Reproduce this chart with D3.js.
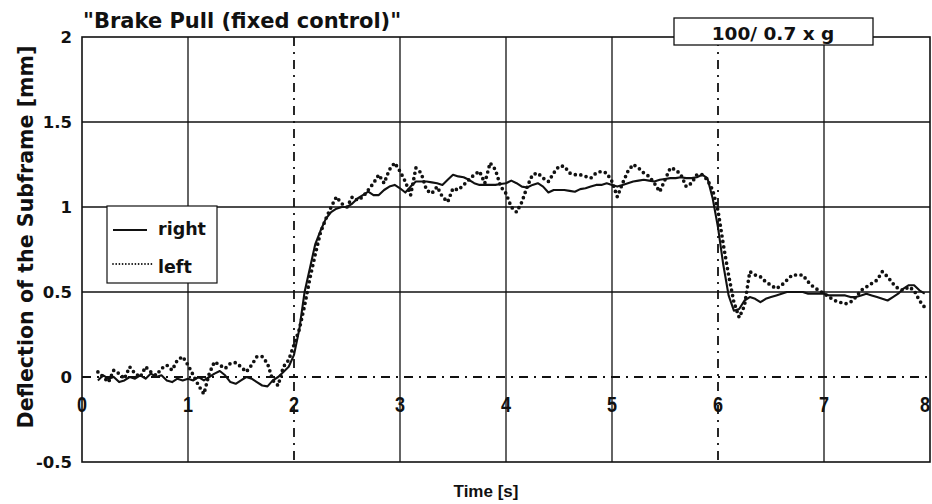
<!DOCTYPE html>
<html><head><meta charset="utf-8">
<script src="https://cdn.jsdelivr.net/npm/d3@7"></script>
<style>
html,body{margin:0;padding:0;background:#fff;}
svg text{font-family:"DejaVu Sans",sans-serif;font-weight:bold;fill:#111;}
svg text.arial{font-family:"Liberation Sans",Arial,sans-serif;}
</style></head>
<body><svg id="c" width="932" height="504"></svg>
<script>
const time = [
0.15,0.20,0.25,0.30,0.35,0.40,0.45,0.50,0.55,0.60,
0.65,0.70,0.75,0.80,0.85,0.90,0.95,1.00,1.05,1.10,
1.15,1.20,1.25,1.30,1.35,1.40,1.45,1.50,1.55,1.60,
1.65,1.70,1.75,1.80,1.85,1.90,1.95,2.00,2.05,2.10,
2.15,2.20,2.25,2.30,2.35,2.40,2.45,2.50,2.55,2.60,
2.65,2.70,2.75,2.80,2.85,2.90,2.95,3.00,3.05,3.10,
3.15,3.20,3.25,3.30,3.35,3.40,3.45,3.50,3.55,3.60,
3.65,3.70,3.75,3.80,3.85,3.90,3.95,4.00,4.05,4.10,
4.15,4.20,4.25,4.30,4.35,4.40,4.45,4.50,4.55,4.60,
4.65,4.70,4.75,4.80,4.85,4.90,4.95,5.00,5.05,5.10,
5.15,5.20,5.25,5.30,5.35,5.40,5.45,5.50,5.55,5.60,
5.65,5.70,5.75,5.80,5.85,5.90,5.95,6.00,6.05,6.10,
6.15,6.20,6.25,6.30,6.35,6.40,6.45,6.50,6.55,6.60,
6.65,6.70,6.75,6.80,6.85,6.90,6.95,7.00,7.05,7.10,
7.15,7.20,7.25,7.30,7.35,7.40,7.45,7.50,7.55,7.60,
7.65,7.70,7.75,7.80,7.85,7.90,7.95];

const right = [
-0.02,0.01,-0.01,0.00,-0.03,-0.02,0.00,-0.01,0.01,-0.01,
0.02,0.00,0.01,-0.02,-0.03,-0.01,-0.02,-0.01,-0.02,0.00,
-0.02,0.00,0.02,0.035,0.01,-0.03,-0.04,-0.02,0.00,-0.01,
-0.03,-0.05,-0.055,-0.02,0.00,0.03,0.06,0.13,0.28,0.50,
0.64,0.78,0.86,0.93,0.97,0.99,1.00,1.00,1.02,1.05,
1.07,1.09,1.07,1.07,1.10,1.12,1.13,1.11,1.085,1.12,
1.15,1.15,1.15,1.145,1.14,1.13,1.16,1.19,1.18,1.175,
1.16,1.14,1.13,1.13,1.13,1.13,1.135,1.14,1.155,1.14,
1.12,1.115,1.13,1.14,1.12,1.085,1.10,1.10,1.10,1.095,
1.09,1.105,1.11,1.12,1.13,1.13,1.14,1.13,1.12,1.13,
1.14,1.15,1.155,1.16,1.155,1.15,1.16,1.165,1.17,1.17,
1.175,1.17,1.17,1.175,1.19,1.17,1.05,0.88,0.66,0.48,
0.39,0.40,0.45,0.47,0.46,0.44,0.46,0.47,0.48,0.49,
0.50,0.50,0.50,0.50,0.49,0.49,0.49,0.49,0.48,0.48,
0.48,0.48,0.47,0.47,0.48,0.49,0.48,0.47,0.46,0.45,
0.47,0.49,0.52,0.54,0.54,0.51,0.49];

const left = [
0.03,0.00,-0.03,0.04,0.02,-0.01,0.06,0.02,0.00,0.06,
0.03,0.01,0.05,0.07,0.04,0.10,0.12,0.07,0.01,-0.05,
-0.10,0.02,0.09,0.07,0.05,0.08,0.085,0.06,0.03,0.07,
0.12,0.12,0.08,-0.02,-0.05,0.06,0.10,0.19,0.28,0.42,
0.58,0.72,0.85,0.93,1.00,1.06,1.02,1.00,1.06,1.04,
1.06,1.10,1.14,1.19,1.14,1.22,1.26,1.21,1.15,1.07,
1.23,1.20,1.10,1.08,1.12,1.06,1.03,1.11,1.10,1.13,
1.16,1.19,1.21,1.14,1.26,1.22,1.12,1.08,1.00,0.97,
1.03,1.12,1.19,1.20,1.17,1.15,1.20,1.24,1.24,1.20,
1.19,1.19,1.18,1.17,1.20,1.21,1.20,1.15,1.06,1.14,
1.21,1.25,1.23,1.20,1.18,1.14,1.09,1.16,1.23,1.22,
1.19,1.12,1.14,1.19,1.19,1.16,1.10,0.98,0.78,0.60,
0.44,0.35,0.42,0.62,0.60,0.59,0.56,0.54,0.52,0.54,
0.57,0.60,0.60,0.60,0.56,0.53,0.51,0.49,0.47,0.45,
0.44,0.43,0.44,0.47,0.51,0.53,0.55,0.57,0.62,0.59,
0.55,0.52,0.51,0.53,0.51,0.45,0.41];

const xTicks = [0,1,2,3,4,5,6,7,8];
const yTicks = [-0.5,0,0.5,1,1.5,2];
const yTickLabels = ["-0.5","0","0.5","1","1.5","2"];
const markerTimes = [2,6];
const seriesNames = ["right","left"];
const titleText = "\"Brake Pull (fixed control)\"";
const noteText = "100/ 0.7 x g";
const xTitle = "Time [s]";
const yTitle = "Deflection of the Subframe [mm]";

const svg = d3.select("#c");
const x = d3.scaleLinear().domain([0,8]).range([82,930]);
const y = d3.scaleLinear().domain([-0.5,2]).range([462,37]);
const ink = "#111";
const dashDot = "9,6,2,6";

// grid
const g = svg.append("g");
g.selectAll("line.vg").data(xTicks.filter(t => t>0 && t<8 && !markerTimes.includes(t)))
 .join("line").attr("x1",d=>x(d)).attr("x2",d=>x(d)).attr("y1",y(2)).attr("y2",y(-0.5))
 .attr("stroke",ink).attr("stroke-width",1.3);
g.selectAll("line.hg").data(yTicks.filter(v => v>-0.5 && v<2 && v!==0))
 .join("line").attr("x1",x(0)).attr("x2",x(8)).attr("y1",d=>y(d)).attr("y2",d=>y(d))
 .attr("stroke",ink).attr("stroke-width",1.3);
g.append("line").attr("x1",x(0)).attr("x2",x(8)).attr("y1",y(0)).attr("y2",y(0))
 .attr("stroke",ink).attr("stroke-width",1.8).attr("stroke-dasharray",dashDot);
g.selectAll("line.mk").data(markerTimes).join("line")
 .attr("x1",d=>x(d)).attr("x2",d=>x(d)).attr("y1",y(2)).attr("y2",y(-0.5))
 .attr("stroke",ink).attr("stroke-width",1.8).attr("stroke-dasharray",dashDot);
g.append("rect").attr("x",x(0)).attr("y",y(2)).attr("width",x(8)-x(0)).attr("height",y(-0.5)-y(2))
 .attr("fill","none").attr("stroke",ink).attr("stroke-width",1.6);

// series
const line = d3.line().x((d,i)=>x(time[i])).y(d=>y(d));
svg.append("path").datum(right).attr("d",line).attr("fill","none")
 .attr("stroke",ink).attr("stroke-width",2.1).attr("stroke-linejoin","round");
svg.append("path").datum(left).attr("d",line).attr("fill","none")
 .attr("stroke",ink).attr("stroke-width",3.7).attr("stroke-linecap","round")
 .attr("stroke-dasharray","0,5.5");

// tick labels
svg.selectAll("text.xt").data(xTicks).join("text").attr("class","arial")
 .attr("transform",d=>`translate(${Math.min(x(d),925)},412) scale(0.82,1)`)
 .attr("text-anchor","middle").attr("font-size",22).text(d=>d);
svg.selectAll("text.yt").data(yTicks).join("text")
 .attr("x",72).attr("y",(d)=>y(d)+6).attr("text-anchor","end")
 .attr("font-size",16.5).text((d,i)=>yTickLabels[i]);

// titles
svg.append("text").attr("x",83).attr("y",28).attr("font-size",21).text(titleText);
svg.append("text").attr("class","arial").attr("x",486).attr("y",497).attr("text-anchor","middle").attr("font-size",17).text(xTitle);
svg.append("text").attr("transform","translate(33,237) rotate(-90)").attr("text-anchor","middle")
 .attr("font-size",20.6).text(yTitle);

// note box
svg.append("rect").attr("x",674).attr("y",18).attr("width",199).attr("height",27)
 .attr("fill","#fff").attr("stroke",ink).attr("stroke-width",1.3);
svg.append("text").attr("x",773).attr("y",40).attr("text-anchor","middle").attr("font-size",18.5).text(noteText);

// legend
const lg = svg.append("g");
lg.append("rect").attr("x",107).attr("y",206).attr("width",110).attr("height",77)
 .attr("fill","#fff").attr("stroke",ink).attr("stroke-width",1.2);
lg.append("line").attr("x1",113).attr("x2",147).attr("y1",230).attr("y2",230)
 .attr("stroke",ink).attr("stroke-width",2.2);
lg.append("line").attr("x1",113).attr("x2",152).attr("y1",264).attr("y2",264)
 .attr("stroke",ink).attr("stroke-width",1.8).attr("stroke-linecap","round").attr("stroke-dasharray","0,3.2");
lg.append("text").attr("x",158).attr("y",235).attr("font-size",17.5).text(seriesNames[0]);
lg.append("text").attr("x",158).attr("y",273).attr("font-size",17.5).text(seriesNames[1]);
</script></body></html>
